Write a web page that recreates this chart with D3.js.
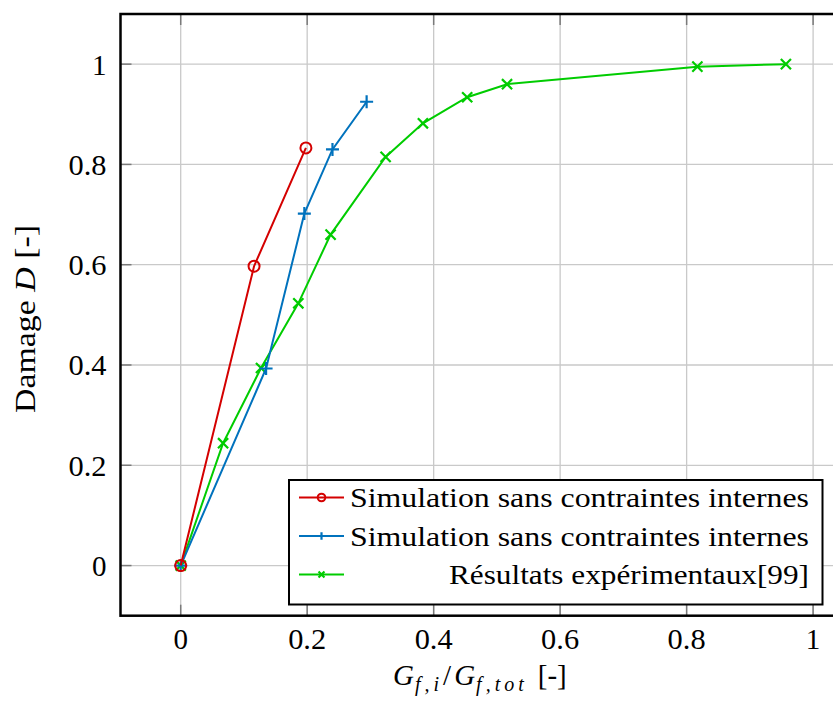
<!DOCTYPE html>
<html><head><meta charset="utf-8">
<script src="https://cdn.jsdelivr.net/npm/d3@7"></script>
<style>
html,body{margin:0;padding:0;background:#fff;}
svg{display:block;}
text{font-family:"Liberation Serif","DejaVu Serif",serif;fill:#000;}
</style></head><body>
<svg id="chart" width="833" height="702"></svg>
<script>
// ---- data ----
const xTicks = [0, 0.2, 0.4, 0.6, 0.8, 1];
const yTicks = [0, 0.2, 0.4, 0.6, 0.8, 1];
const xTickLabels = ["0", "0.2", "0.4", "0.6", "0.8", "1"];
const yTickLabels = ["0", "0.2", "0.4", "0.6", "0.8", "1"];
const seriesNames = ["Simulation sans contraintes internes", "Simulation sans contraintes internes", "Résultats expérimentaux[99]"];
const redX = [0, 0.116, 0.198];
const redY = [0, 0.597, 0.833];
const blueX = [0, 0.135, 0.1955, 0.240, 0.294];
const blueY = [0, 0.393, 0.702, 0.830, 0.925];
const greenX = [0, 0.067, 0.127, 0.186, 0.237, 0.324, 0.383, 0.453, 0.516, 0.817, 0.957];
const greenY = [0, 0.244, 0.394, 0.523, 0.660, 0.815, 0.882, 0.934, 0.960, 0.995, 1.0];

const colors = ["#d40000", "#0072bd", "#00cc00"];
const markers = ["circle", "plus", "cross"];

const svg = d3.select("#chart");
const pLeft = 120.5, pTop = 14, pBottom = 615.7;
const x = d3.scaleLinear().domain([0, 1]).range([180.7, 813.1]);
const xMax = 1.0505;
const y = d3.scaleLinear().domain([-0.1, 1.1]).range([pBottom, pTop]);
const pRight = x(xMax);

// grid
const g = svg.append("g");
g.selectAll(".gx").data(xTicks).join("line")
  .attr("x1", d => x(d)).attr("x2", d => x(d)).attr("y1", pTop).attr("y2", pBottom)
  .attr("stroke", "#c9c9c9").attr("stroke-width", 1.3);
g.selectAll(".gy").data(yTicks).join("line")
  .attr("y1", d => y(d)).attr("y2", d => y(d)).attr("x1", pLeft).attr("x2", pRight)
  .attr("stroke", "#c9c9c9").attr("stroke-width", 1.3);

// ticks (inward)
const tl = 11;
xTicks.forEach(t => {
  g.append("line").attr("x1", x(t)).attr("x2", x(t)).attr("y1", pBottom).attr("y2", pBottom - tl).attr("stroke", "#7a7a7a").attr("stroke-width", 1.5);
  g.append("line").attr("x1", x(t)).attr("x2", x(t)).attr("y1", pTop).attr("y2", pTop + tl).attr("stroke", "#7a7a7a").attr("stroke-width", 1.5);
});
yTicks.forEach(t => {
  g.append("line").attr("y1", y(t)).attr("y2", y(t)).attr("x1", pLeft).attr("x2", pLeft + tl).attr("stroke", "#7a7a7a").attr("stroke-width", 1.5);
});

// tick labels
function tickLen(s) { return s.length === 1 ? null : 38; }
svg.selectAll(".xl").data(xTicks).join("text")
  .attr("x", d => x(d)).attr("y", 649).attr("text-anchor", "middle")
  .attr("font-size", 29).text((d, i) => xTickLabels[i])
  .each(function(d, i) { const L = tickLen(xTickLabels[i]); if (L) d3.select(this).attr("textLength", L).attr("lengthAdjust", "spacingAndGlyphs"); });
svg.selectAll(".yl").data(yTicks).join("text")
  .attr("x", 106.5).attr("y", d => y(d) + 10.5).attr("text-anchor", "end")
  .attr("font-size", 29).text((d, i) => yTickLabels[i])
  .each(function(d, i) { const L = tickLen(yTickLabels[i]); if (L) d3.select(this).attr("textLength", L).attr("lengthAdjust", "spacingAndGlyphs"); });

// series
const xs = [redX, blueX, greenX], ys = [redY, blueY, greenY];
const line = d3.line().x(d => x(d[0])).y(d => y(d[1]));
function drawMarker(sel, type, cx, cy, s, color) {
  if (type === "circle") {
    sel.append("circle").attr("cx", cx).attr("cy", cy).attr("r", s).attr("fill", "none").attr("stroke", color).attr("stroke-width", 2);
  } else if (type === "plus") {
    sel.append("path").attr("d", `M${cx - s},${cy}H${cx + s}M${cx},${cy - s}V${cy + s}`).attr("stroke", color).attr("stroke-width", 2.2).attr("fill", "none");
  } else {
    const k = s * 0.78;
    sel.append("path").attr("d", `M${cx - k},${cy - k}L${cx + k},${cy + k}M${cx - k},${cy + k}L${cx + k},${cy - k}`).attr("stroke", color).attr("stroke-width", 2.2).attr("fill", "none");
  }
}
[2, 1, 0].forEach(i => {
  const pts = xs[i].map((v, j) => [v, ys[i][j]]);
  svg.append("path").attr("d", line(pts)).attr("fill", "none").attr("stroke", colors[i]).attr("stroke-width", 2);
  const mg = svg.append("g");
  pts.forEach(p => drawMarker(mg, markers[i], x(p[0]), y(p[1]), i === 0 ? 5.5 : 6.5, colors[i]));
});

// frame
svg.append("rect").attr("x", pLeft).attr("y", pTop).attr("width", pRight - pLeft).attr("height", pBottom - pTop)
  .attr("fill", "none").attr("stroke", "#000").attr("stroke-width", 2.5);

// legend
const lg = svg.append("g");
lg.append("rect").attr("x", 289).attr("y", 480).attr("width", 533.5).attr("height", 124.5)
  .attr("fill", "#fff").attr("stroke", "#000").attr("stroke-width", 2);
const rowY = [497.5, 536, 574.5];
const legendLen = [459, 459, 360];
seriesNames.forEach((name, i) => {
  lg.append("line").attr("x1", 299).attr("x2", 344).attr("y1", rowY[i]).attr("y2", rowY[i]).attr("stroke", colors[i]).attr("stroke-width", 2);
  drawMarker(lg, markers[i], 321.5, rowY[i], 3.8, colors[i]);
  lg.append("text").attr("x", 809 - legendLen[i]).attr("y", rowY[i] + 9.8)
    .attr("font-size", 27).attr("textLength", legendLen[i]).attr("lengthAdjust", "spacingAndGlyphs").text(name);
});

// axis labels
const xl = svg.append("text").attr("x", 393).attr("y", 685).attr("font-size", 29);
xl.append("tspan").attr("font-style", "italic").text("G");
xl.append("tspan").attr("font-style", "italic").attr("font-size", 20).attr("letter-spacing", 4).attr("dx", 1).attr("dy", 6).text("f,i");
xl.append("tspan").attr("dy", -6).attr("dx", 0).text("/");
xl.append("tspan").attr("font-style", "italic").attr("dx", 3).text("G");
xl.append("tspan").attr("font-style", "italic").attr("font-size", 20).attr("letter-spacing", 4).attr("dx", 1).attr("dy", 6).text("f,tot");
xl.append("tspan").attr("dy", -6).attr("dx", 10).text("[-]");

const yl = svg.append("text").attr("transform", "translate(35,413) rotate(-90)").attr("font-size", 30)
  .attr("textLength", 188).attr("lengthAdjust", "spacingAndGlyphs");
yl.append("tspan").text("Damage ");
yl.append("tspan").attr("font-style", "italic").text("D");
yl.append("tspan").text(" [-]");
</script>
</body></html>
